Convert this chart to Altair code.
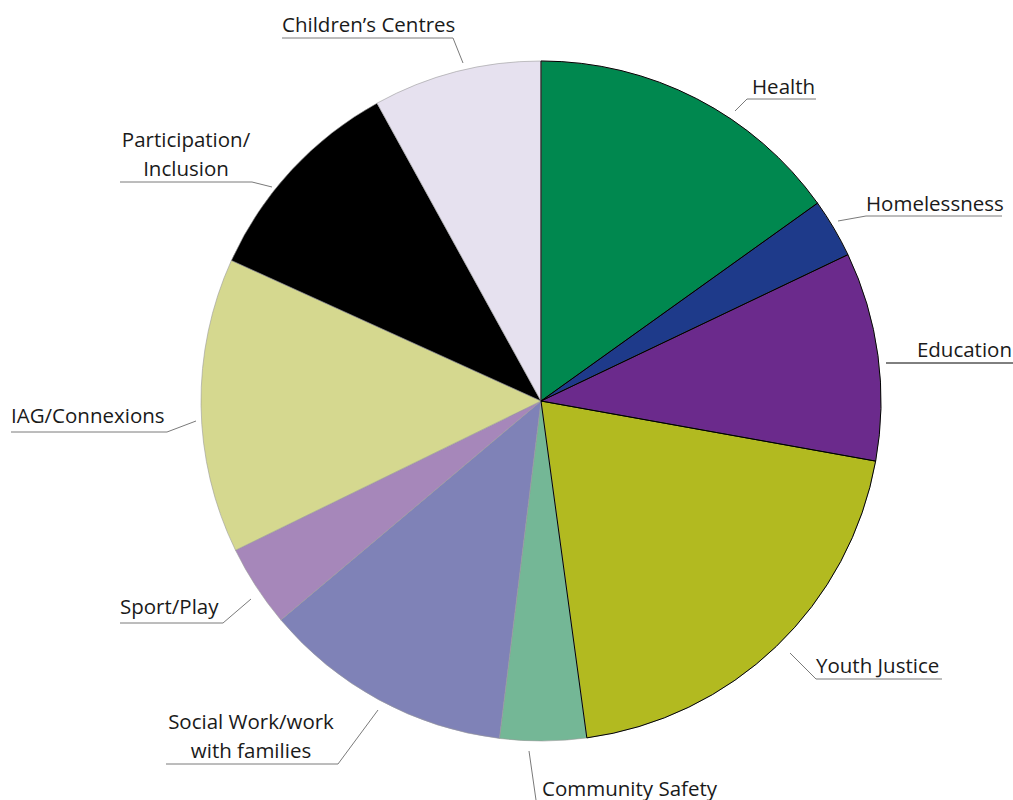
import altair as alt
import pandas as pd

# ---- data ----
categories = [
    "Health", "Homelessness", "Education", "Youth Justice", "Community Safety",
    "Social Work/work with families", "Sport/Play", "IAG/Connexions",
    "Participation/Inclusion", "Children\u2019s Centres",
]
values = [15.1, 2.8, 9.9, 20.0, 4.1, 11.9, 3.9, 14.0, 10.2, 8.0]
label_lines = [
    ["Health"], ["Homelessness"], ["Education"], ["Youth Justice"], ["Community Safety"],
    ["Social Work/work", "with families"], ["Sport/Play"], ["IAG/Connexions"],
    ["Participation/", "Inclusion"], ["Children\u2019s Centres"],
]

# ---- styles ----
colors = ["#00884f", "#1e3a8a", "#6b2a8c", "#b2ba20", "#74b796",
          "#7f82b7", "#a687ba", "#d5d88f", "#000000", "#e6e1ef"]
edge = ["dark", "dark", "dark", "dark", "light", "light", "light", "light", "light", "light"]
tone_color = {"grey": "#7a7a7a", "black": "#000000"}

# ---- layout (pixels) ----
CX, CY, R = 541, 401, 340
FONT = "Open Sans"
FS = 20.5
LH = 28.5
layout = {
    "Health": dict(x=752, y=94, align="left", tone="grey",
                   leader=[(735, 111), (747, 99), (816, 99)]),
    "Homelessness": dict(x=866, y=211, align="left", tone="grey",
                         leader=[(838, 221), (866, 216), (1002, 216)]),
    "Education": dict(x=1012, y=357, align="right", tone="black",
                      leader=[(886, 363), (1013, 363)]),
    "Youth Justice": dict(x=816, y=673, align="left", tone="grey",
                          leader=[(790, 653), (816, 679), (942, 679)]),
    "Community Safety": dict(x=542, y=796, align="left", tone="grey",
                             leader=[(529, 751), (536, 800)]),
    "Social Work/work with families": dict(x=251, y=729, align="center", tone="grey",
                                           leader=[(378, 710), (338, 764), (166, 764)]),
    "Sport/Play": dict(x=120, y=614, align="left", tone="grey",
                       leader=[(251, 599), (223, 623), (120, 623)]),
    "IAG/Connexions": dict(x=11, y=423, align="left", tone="grey",
                           leader=[(196, 421), (167, 432), (11, 432)]),
    "Participation/Inclusion": dict(x=186, y=147, align="center", tone="grey",
                                    leader=[(272, 187), (252, 182), (120, 182)]),
    "Children\u2019s Centres": dict(x=282, y=32, align="left", tone="grey",
                                    leader=[(463, 63), (453, 38), (282, 38)]),
}

# ---- tables ----
pie_df = pd.DataFrame({
    "category": categories,
    "value": values,
    "order": list(range(len(categories))),
    "edge": edge,
})

lead_rows, text_rows = [], []
for cat, lines in zip(categories, label_lines):
    L = layout[cat]
    for i, (px, py) in enumerate(L["leader"]):
        lead_rows.append(dict(cat=cat, seq=i, px=px, py=py, tone=L["tone"]))
    for j, t in enumerate(lines):
        text_rows.append(dict(text=t, px=L["x"], py=L["y"] + j * LH, align=L["align"]))
lead_df = pd.DataFrame(lead_rows)
text_df = pd.DataFrame(text_rows)

# ---- pie ----
base = alt.Chart(pie_df).encode(
    theta=alt.Theta("value:Q", stack=True),
    order=alt.Order("order:Q"),
    x=alt.value(CX),
    y=alt.value(CY),
)
fill_layer = base.mark_arc(radius=R, stroke="#9a9a9a", strokeWidth=0.6).encode(
    color=alt.Color("category:N", scale=alt.Scale(domain=categories, range=colors), legend=None)
)
edge_layer = base.mark_arc(radius=R, fillOpacity=0, stroke="#000000", strokeWidth=1).encode(
    strokeOpacity=alt.condition("datum.edge == 'dark'", alt.value(1), alt.value(0))
)

# ---- leaders ----
leader_layers = []
for tone, col in tone_color.items():
    sub = lead_df[lead_df["tone"] == tone]
    if len(sub) == 0:
        continue
    leader_layers.append(
        alt.Chart(sub).mark_line(strokeWidth=1, color=col).encode(
            x=alt.X("px:Q", scale=None, axis=None),
            y=alt.Y("py:Q", scale=None, axis=None),
            detail="cat:N",
            order="seq:Q",
        )
    )

# ---- labels ----
text_layers = []
for al in ["left", "right", "center"]:
    sub = text_df[text_df["align"] == al]
    if len(sub) == 0:
        continue
    text_layers.append(
        alt.Chart(sub).mark_text(align=al, baseline="alphabetic", font=FONT, fontSize=FS, color="#1a1a1a").encode(
            x=alt.X("px:Q", scale=None, axis=None),
            y=alt.Y("py:Q", scale=None, axis=None),
            text="text:N",
        )
    )

chart = alt.layer(fill_layer, edge_layer, *leader_layers, *text_layers).properties(
    width=1013, height=800, padding=0, autosize="none"
).configure_view(strokeWidth=0)

chart.save("out.html", embed_options={"renderer": "svg", "actions": False})
